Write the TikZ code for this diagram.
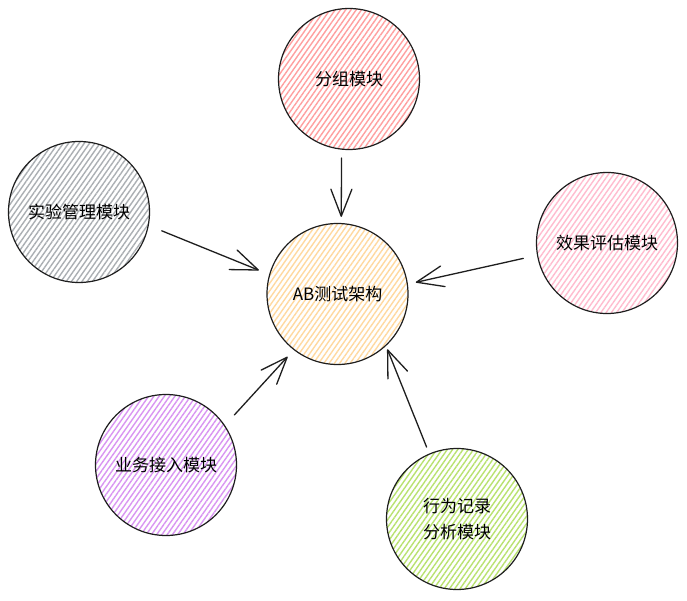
\documentclass[tikz,border=0pt]{standalone}
\usepackage{fontspec}
\newfontfamily\cjk{Noto Sans CJK SC}
\usetikzlibrary{patterns.meta,arrows.meta}
\definecolor{inkc}{HTML}{1E1E1E}
\definecolor{orangef}{HTML}{FFD9A0}
\definecolor{redf}{HTML}{FFA0A0}
\definecolor{grayf}{HTML}{ABAFB3}
\definecolor{pinkf}{HTML}{FFBCCF}
\definecolor{purplef}{HTML}{D995F2}
\definecolor{greenf}{HTML}{B9E270}
\tikzset{
  modcircle/.style={circle, draw=inkc, line width=1.2pt, inner sep=0pt,
    minimum size=141pt, align=center,
    font=\cjk\fontsize{17}{26}\selectfont,
    pattern={Lines[angle=55,distance=4.3pt,line width=1.4pt]}, pattern color=#1},
  conn/.style={draw=inkc, line width=1.3pt, line cap=round,
    -{Straight Barb[length=27pt,width=21pt,round]}}
}
\begin{document}
\begin{tikzpicture}[x=1pt,y=-1pt]
\fill[white] (0,0) rectangle (687,601);
\useasboundingbox (0,0) rectangle (687,601);

\node[modcircle=orangef] (center) at (337.5,294) {AB测试架构};
\node[modcircle=redf] (grp) at (349,79) {分组模块};
\node[modcircle=grayf] (exp) at (79,212) {实验管理模块};
\node[modcircle=pinkf] (eval) at (607,243) {效果评估模块};
\node[modcircle=purplef] (biz) at (166,465) {业务接入模块};
\node[modcircle=greenf] (beh) at (457,519) {行为记录\\分析模块};

\draw[conn, shorten <=8.4pt, shorten >=6pt] (grp.-96) -- (center.87);
\draw[conn, shorten <=14pt, shorten >=11pt] (exp.-11) -- (center.164);
\draw[conn, shorten <=14pt, shorten >=8pt] (eval.-170) -- (center.8);
\draw[conn, shorten <=14pt, shorten >=9pt] (biz.34) -- (center.-128);
\draw[conn, shorten <=7pt, shorten >=3.5pt] (beh.113) -- (center.-47);
\end{tikzpicture}
\end{document}
